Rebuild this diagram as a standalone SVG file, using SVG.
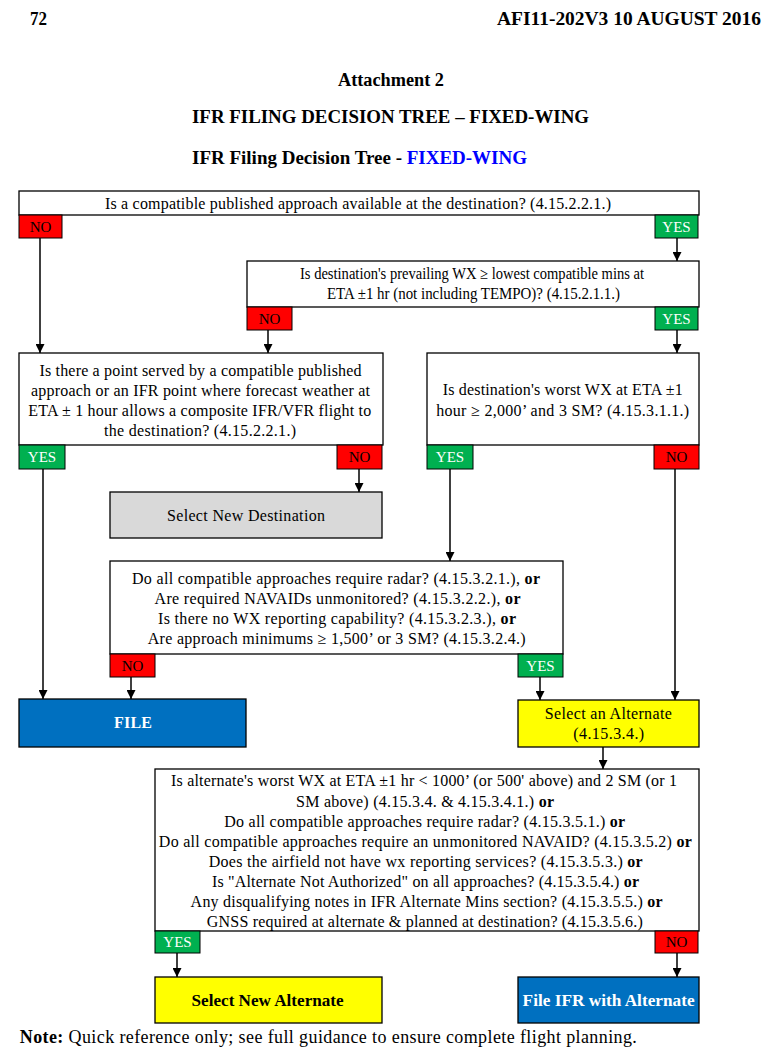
<svg xmlns="http://www.w3.org/2000/svg" width="775" height="1059" viewBox="0 0 775 1059">
<defs>
<marker id="arr" markerUnits="userSpaceOnUse" markerWidth="9" markerHeight="9" refX="9" refY="4.5" orient="auto">
<path d="M0,0 L9,4.5 L0,9 z" fill="#000"/>
</marker>
</defs>
<style>
.box{fill:#fff;stroke:#000;stroke-width:1.3}
.no{fill:#FF0000;stroke:#000;stroke-width:1}
.yes{fill:#00B050;stroke:#000;stroke-width:1}
.gray{fill:#D9D9D9;stroke:#000;stroke-width:1.3}
.yel{fill:#FFFF00;stroke:#000;stroke-width:1.3}
.blue{fill:#0070C0;stroke:#000;stroke-width:1.3}
.t{font-family:"Liberation Serif","Times New Roman",serif;font-size:16px;fill:#000;text-anchor:middle}
.hd{font-family:"Liberation Serif","Times New Roman",serif;font-weight:bold;fill:#000;font-size:18px}
.lbl{font-size:15px}
.w{fill:#fff}
.b{font-weight:bold}
.conn{stroke:#000;stroke-width:1.5;fill:none;marker-end:url(#arr)}
</style>
<rect width="775" height="1059" fill="#fff"/>
<g id="header">
<text class="hd" x="30" y="24.5" textLength="17" lengthAdjust="spacingAndGlyphs">72</text>
<text class="hd" x="497" y="24.5" textLength="264" lengthAdjust="spacingAndGlyphs">AFI11-202V3  10 AUGUST 2016</text>
<text class="hd" x="338" y="86" textLength="106" lengthAdjust="spacingAndGlyphs">Attachment 2</text>
<text class="hd" x="192" y="123" textLength="397" lengthAdjust="spacingAndGlyphs">IFR FILING DECISION TREE – FIXED-WING</text>
<text class="hd" x="192" y="163.5" textLength="335" lengthAdjust="spacingAndGlyphs">IFR Filing Decision Tree - <tspan fill="#0000FF">FIXED-WING</tspan></text>
</g>
<g id="q1">
<rect class="box" x="19" y="191" width="680" height="24"/>
<text class="t" x="358" y="208.5" font-size="16.5" textLength="506">Is a compatible published approach available at the destination? (4.15.2.2.1.)</text>
<rect class="no" x="19" y="215" width="43" height="23"/>
<text class="t lbl" x="40.5" y="232">NO</text>
<rect class="yes" x="655" y="215" width="43" height="23"/>
<text class="t lbl w" x="676.5" y="232">YES</text>
</g>
<g id="q2">
<rect class="box" x="247" y="261" width="452" height="46"/>
<text class="t" x="472" y="279" font-size="14.5" textLength="344" lengthAdjust="spacingAndGlyphs">Is destination's prevailing WX ≥ lowest compatible mins at</text>
<text class="t" x="473.5" y="299" font-size="14.5" textLength="293" lengthAdjust="spacingAndGlyphs">ETA ±1 hr (not including TEMPO)? (4.15.2.1.1.)</text>
<rect class="no" x="247" y="307" width="45" height="23"/>
<text class="t lbl" x="269.5" y="324">NO</text>
<rect class="yes" x="655" y="307" width="43" height="23"/>
<text class="t lbl w" x="676.5" y="324">YES</text>
</g>
<g id="q3">
<rect class="box" x="19" y="353" width="364" height="92"/>
<text class="t" x="200.5" y="375.5" font-size="16.5" textLength="322">Is there a point served by a compatible published</text>
<text class="t" x="200.5" y="395.5" font-size="16.5" textLength="339">approach or an IFR point where forecast weather at</text>
<text class="t" x="199.7" y="415.5" font-size="16.5" textLength="343">ETA ± 1 hour allows a composite IFR/VFR flight to</text>
<text class="t" x="200" y="435.5" font-size="16.5" textLength="192">the destination? (4.15.2.2.1.)</text>
<rect class="yes" x="19" y="445" width="46" height="24"/>
<text class="t lbl w" x="42" y="462">YES</text>
<rect class="no" x="337" y="445" width="45" height="24"/>
<text class="t lbl" x="359.5" y="462">NO</text>
</g>
<g id="q4">
<rect class="box" x="427" y="353" width="272" height="92"/>
<text class="t" x="562.7" y="394.5" textLength="240">Is destination's worst WX at ETA ±1</text>
<text class="t" x="562.7" y="415.5" textLength="253">hour ≥ 2,000’ and 3 SM? (4.15.3.1.1.)</text>
<rect class="yes" x="427" y="445" width="46" height="24"/>
<text class="t lbl w" x="450" y="462">YES</text>
<rect class="no" x="654" y="445" width="45" height="24"/>
<text class="t lbl" x="676.5" y="462">NO</text>
</g>
<g id="newdest">
<rect class="gray" x="110" y="492" width="272" height="46"/>
<text class="t" x="246" y="520.5" font-size="17" textLength="158">Select New Destination</text>
</g>
<g id="q5">
<rect class="box" x="110" y="561" width="453" height="93"/>
<text class="t" x="336" y="583.5" font-size="17" textLength="408">Do all compatible approaches require radar? (4.15.3.2.1.), <tspan class="b">or</tspan></text>
<text class="t" x="337.5" y="603.5" font-size="17" textLength="366">Are required NAVAIDs unmonitored? (4.15.3.2.2.), <tspan class="b">or</tspan></text>
<text class="t" x="337" y="623.5" font-size="17" textLength="358">Is there no WX reporting capability? (4.15.3.2.3.), <tspan class="b">or</tspan></text>
<text class="t" x="336.7" y="643.5" font-size="17" textLength="378">Are approach minimums ≥ 1,500’ or 3 SM? (4.15.3.2.4.)</text>
<rect class="no" x="110" y="654" width="45" height="23"/>
<text class="t lbl" x="132.5" y="671">NO</text>
<rect class="yes" x="518" y="654" width="45" height="23"/>
<text class="t lbl w" x="540.5" y="671">YES</text>
</g>
<g id="file">
<rect class="blue" x="19" y="699" width="227" height="48"/>
<text class="t w b" x="133" y="728" font-size="16.5" textLength="38">FILE</text>
</g>
<g id="selalt">
<rect class="yel" x="518" y="700" width="181" height="47"/>
<text class="t" x="608.3" y="718.5" font-size="16.5" textLength="127">Select an Alternate</text>
<text class="t" x="608.7" y="738.5" font-size="16.5" textLength="71">(4.15.3.4.)</text>
</g>
<g id="q6">
<rect class="box" x="155" y="769" width="544" height="162"/>
<text class="t" x="424" y="786" font-size="16.5" textLength="506">Is alternate's worst WX at ETA ±1 hr &lt; 1000’ (or 500' above) and 2 SM (or 1</text>
<text class="t" x="425" y="806.5" font-size="16.5" textLength="258">SM above) (4.15.3.4. &amp; 4.15.3.4.1.) <tspan class="b">or</tspan></text>
<text class="t" x="424.7" y="826.5" font-size="16.5" textLength="401">Do all compatible approaches require radar? (4.15.3.5.1.) <tspan class="b">or</tspan></text>
<text class="t" x="425.3" y="846.5" font-size="16.5" textLength="533">Do all compatible approaches require an unmonitored NAVAID? (4.15.3.5.2) <tspan class="b">or</tspan></text>
<text class="t" x="425.7" y="866.5" font-size="16.5" textLength="434">Does the airfield not have wx reporting services? (4.15.3.5.3.) <tspan class="b">or</tspan></text>
<text class="t" x="425.5" y="886.5" font-size="16.5" textLength="427">Is "Alternate Not Authorized" on all approaches? (4.15.3.5.4.) <tspan class="b">or</tspan></text>
<text class="t" x="426.6" y="906.5" font-size="16.5" textLength="472">Any disqualifying notes in IFR Alternate Mins section? (4.15.3.5.5.) <tspan class="b">or</tspan></text>
<text class="t" x="424.8" y="926.5" font-size="16.5" textLength="436">GNSS required at alternate &amp; planned at destination? (4.15.3.5.6.)</text>
<rect class="yes" x="155" y="931" width="45" height="22"/>
<text class="t lbl w" x="177.5" y="947">YES</text>
<rect class="no" x="655" y="931" width="43" height="22"/>
<text class="t lbl" x="676.5" y="947">NO</text>
</g>
<g id="newalt">
<rect class="yel" x="155" y="977" width="227" height="46"/>
<text class="t b" x="267.6" y="1005.5" font-size="16.5" textLength="152" lengthAdjust="spacingAndGlyphs">Select New Alternate</text>
</g>
<g id="fileifr">
<rect class="blue" x="518" y="977" width="181" height="46"/>
<text class="t w b" x="608.6" y="1005.5" font-size="17" textLength="172" lengthAdjust="spacingAndGlyphs">File IFR with Alternate</text>
</g>
<g id="note">
<text x="19.8" y="1042.5" font-family="'Liberation Serif','Times New Roman',serif" font-size="18" textLength="617"><tspan font-weight="bold">Note:</tspan> Quick reference only; see full guidance to ensure complete flight planning.</text>
</g>
<g id="connectors">
<path class="conn" d="M40,238 V353"/>
<path class="conn" d="M677,238 V261"/>
<path class="conn" d="M268,330 V353"/>
<path class="conn" d="M677,330 V353"/>
<path class="conn" d="M43,469 V699"/>
<path class="conn" d="M359,469 V492"/>
<path class="conn" d="M450,469 V561"/>
<path class="conn" d="M675,469 V700"/>
<path class="conn" d="M131,677 V699"/>
<path class="conn" d="M540,677 V700"/>
<path class="conn" d="M603,747 V769"/>
<path class="conn" d="M177,953 V977"/>
<path class="conn" d="M677,953 V977"/>
</g>
</svg>
